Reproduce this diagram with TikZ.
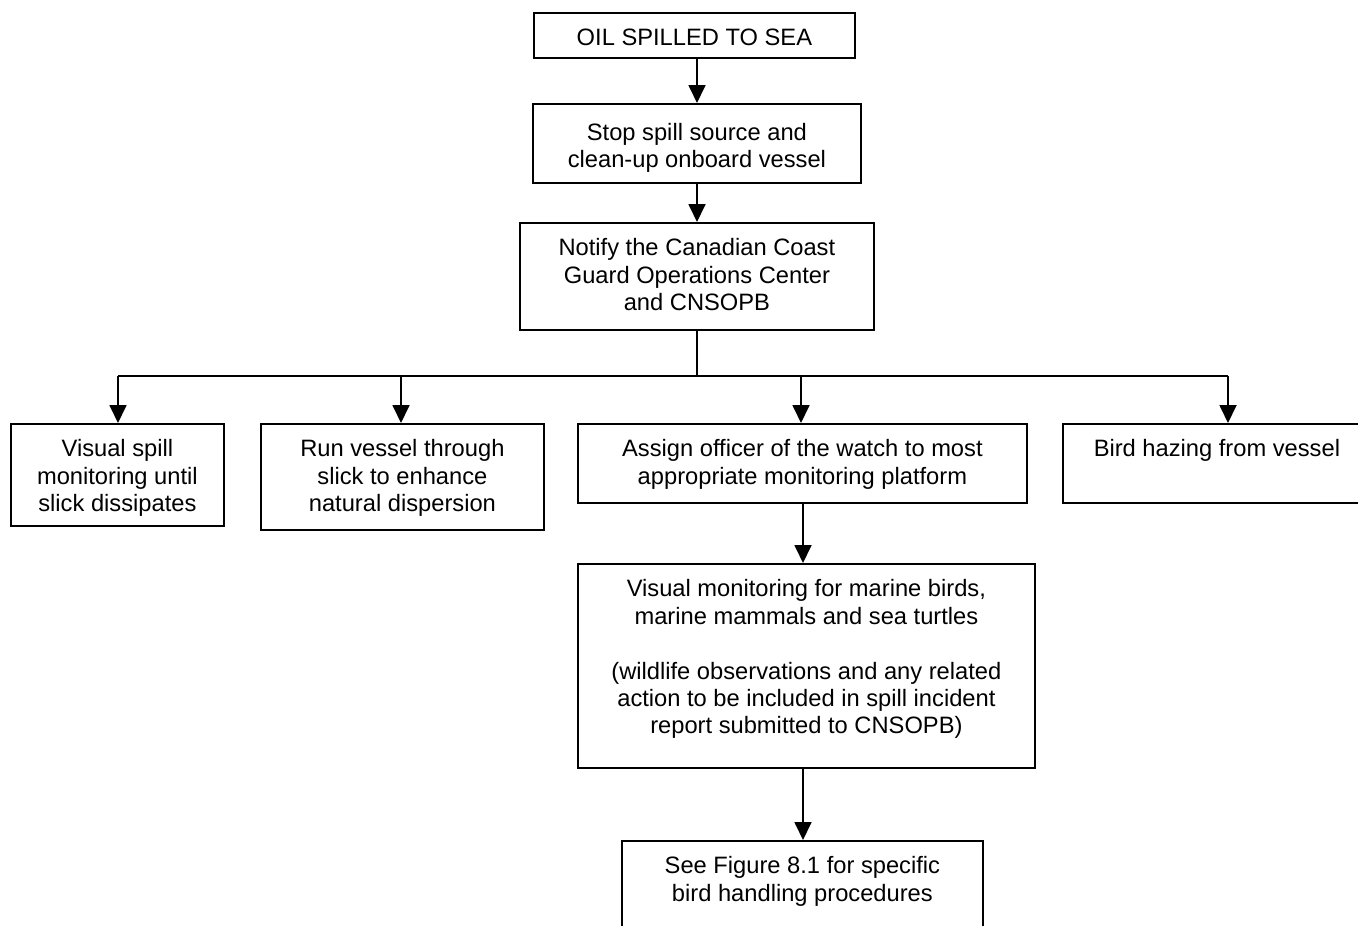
\documentclass[tikz,border=0pt]{standalone}
\usepackage{fontspec}
\setmainfont{Liberation Sans}
\usetikzlibrary{arrows.meta}
\newcommand{\fs}{\fontsize{23.7pt}{27.4pt}\selectfont}
\tikzset{
  box/.style={draw, line width=1.8pt, inner sep=0pt, anchor=north west},
  txt/.style={anchor=north, align=center, inner sep=0pt, font=\fs},
  link/.style={line width=1.8pt},
  arr/.style={line width=1.8pt, -{Triangle[width=17pt,length=18pt]}}
}
\begin{document}
\begin{tikzpicture}[x=1pt,y=-1pt]
\useasboundingbox (0,0) rectangle (1358,926);
\clip (0,0) rectangle (1358,926);
\fill[white] (0,0) rectangle (1358,926);
% boxes
\node[box, minimum width=321pt, minimum height=45pt] (b1) at (533,12) {};
\node[box, minimum width=328pt, minimum height=79pt] (b2) at (532,103) {};
\node[box, minimum width=354pt, minimum height=107pt] (b3) at (519,222) {};
\node[box, minimum width=213pt, minimum height=102pt] (bA) at (10,423) {};
\node[box, minimum width=283pt, minimum height=106pt] (bB) at (260,423) {};
\node[box, minimum width=449pt, minimum height=79pt] (bC) at (577,423) {};
\node[box, minimum width=308pt, minimum height=79pt] (bD) at (1062,423) {};
\node[box, minimum width=457pt, minimum height=204pt] (bE) at (577,563) {};
\node[box, minimum width=361pt, minimum height=100pt] (bF) at (621,840) {};
% texts
\node[txt] (t1) at ([yshift=-16.5pt]b1.north) {OIL SPILLED TO SEA};
\node[txt] (t2) at ([yshift=-20pt]b2.north) {Stop spill source and\\clean-up onboard vessel};
\node[txt] (t3) at ([yshift=-16.5pt]b3.north) {Notify the Canadian Coast\\Guard Operations Center\\and CNSOPB};
\node[txt] (tA) at ([yshift=-16.5pt]bA.north) {Visual spill\\monitoring until\\slick dissipates};
\node[txt] (tB) at ([yshift=-16.5pt]bB.north) {Run vessel through\\slick to enhance\\natural dispersion};
\node[txt] (tC) at ([yshift=-16.5pt]bC.north) {Assign officer of the watch to most\\appropriate monitoring platform};
\node[txt] (tD) at ([yshift=-16.5pt]bD.north) {Bird hazing from vessel};
\node[txt] (tE) at ([yshift=-16.5pt]bE.north) {Visual monitoring for marine birds,\\marine mammals and sea turtles\\[27.4pt](wildlife observations and any related\\action to be included in spill incident\\report submitted to CNSOPB)};
\node[txt] (tF) at ([yshift=-16.5pt]bF.north) {See Figure 8.1 for specific\\bird handling procedures};
% connector coordinates
\coordinate (tx) at (697,0);
\coordinate (ex) at (803,0);
\coordinate (j) at (697,376);
\coordinate (hA) at (118,376);
\coordinate (hB) at (401,376);
\coordinate (hC) at (801,376);
\coordinate (hD) at (1228,376);
% connectors
\draw[arr] (b1.south -| tx) -- (b2.north -| tx);
\draw[arr] (b2.south -| tx) -- (b3.north -| tx);
\draw[link] (b3.south -| tx) -- (j);
\draw[link] (hA) -- (hD);
\draw[arr] (hA) -- (hA |- bA.north);
\draw[arr] (hB) -- (hB |- bB.north);
\draw[arr] (hC) -- (hC |- bC.north);
\draw[arr] (hD) -- (hD |- bD.north);
\draw[arr] (bC.south -| ex) -- (bE.north -| ex);
\draw[arr] (bE.south -| ex) -- (bF.north -| ex);
\end{tikzpicture}
\end{document}
